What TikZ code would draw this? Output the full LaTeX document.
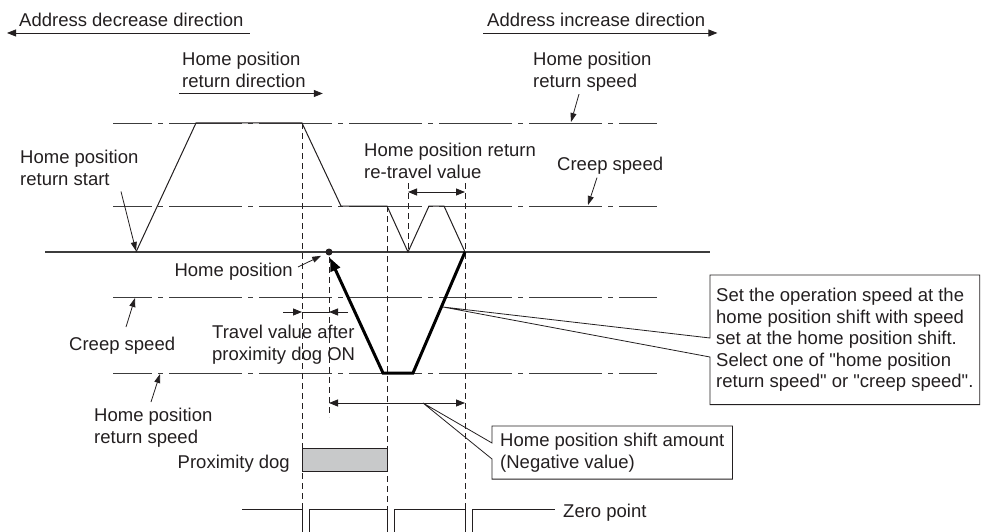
\documentclass[tikz,border=0pt]{standalone}
\usepackage{fontspec}
\setmainfont{Liberation Sans}[Ligatures=TeXOff]
\usetikzlibrary{positioning, arrows.meta}
\definecolor{inkgray}{HTML}{231F20}
\definecolor{linegray}{HTML}{3C3C3C}
\definecolor{doggray}{HTML}{C8C9CA}

\begin{document}
\begin{tikzpicture}[
    x=1pt, y=-1pt,
    every node/.style={font=\fontsize{18.5}{21.5}\selectfont, text=inkgray, inner sep=0pt, align=left},
    arrowline/.style={-{Triangle[length=9pt,width=7pt]}, line width=0.8pt, draw=inkgray},
    dimline/.style={{Triangle[length=9pt,width=7pt]}-{Triangle[length=9pt,width=7pt]}, line width=0.8pt, draw=inkgray},
    pointer/.style={-{Triangle[length=9pt,width=6pt]}, line width=0.8pt, draw=inkgray},
    speedline/.style={line width=0.8pt, draw=linegray, dash pattern=on 73pt off 6pt on 5pt off 6pt, dash phase=34pt},
    guide/.style={line width=0.8pt, draw=inkgray, dash pattern=on 6pt off 4pt},
    motion/.style={line width=1pt, draw=inkgray},
    shiftmotion/.style={line width=3pt, draw=black, -{Triangle[length=13pt,width=10pt]}},
    dot/.style={circle, fill=inkgray, minimum size=7pt},
    notebox/.style={inner xsep=8pt, inner ysep=7pt},
    notefrm/.style={line width=0.8pt, draw=inkgray},
  ]
  \useasboundingbox (0,0) rectangle (982,532);

  % speed levels and zero line
  \draw[speedline] (113,123) -- (657,123);
  \draw[speedline] (113,206) -- (657,206);
  \draw[speedline] (113,297) -- (657,297);
  \draw[speedline] (113,373) -- (657,373);
  \draw[line width=1.6pt, draw=linegray] (45,252) -- (710,252);

  % guides
  \draw[guide] (302,123) -- (302,509);
  \draw[guide] (329,257) -- (329,417);
  \draw[guide] (387,206) -- (387,509);
  \draw[guide] (408,183) -- (408,252);
  \draw[guide] (465,183) -- (465,509);

  % motion
  \coordinate (p0) at (136,252);
  \draw[motion] (p0) -- (196,123) -- (302,123) -- (341,206) -- (387,206)
    -- (408,252) -- (429,206) -- (444,206) -- (465,252);
  \draw[shiftmotion] (465,252) -- (413,373) -- (383,373) -- (330,258);
  \node[dot] (hp) at (329,252) {};

  % proximity dog and zero point signal
  \node[draw=inkgray, line width=0.8pt, fill=doggray, anchor=north west,
    minimum width=85pt, minimum height=23pt] (dog) at (302,448) {};
  \node[anchor=north east] (doglbl) at (290,455) {Proximity dog};
  \draw[line width=0.8pt, draw=inkgray] (242,509) -- (302,509) -- (302,532) -- (309,532) -- (309,509)
    -- (387,509) -- (387,532) -- (394,532) -- (394,509)
    -- (465,509) -- (465,532) -- (472,532) -- (472,509) -- (555,509);
  \node[anchor=north west] (zerolbl) at (563,504) {Zero point};

  % directions
  \node[anchor=north west] (decdir) at (19,13) {Address decrease direction};
  \draw[arrowline] ([xshift=6pt,yshift=-6pt]decdir.south east) -- ([xshift=-12pt,yshift=-6pt]decdir.south west);
  \node[anchor=north west] (incdir) at (487,13) {Address increase direction};
  \draw[arrowline] ([xshift=-4pt,yshift=-6pt]incdir.south west) -- ([xshift=12pt,yshift=-6pt]incdir.south east);
  \node[anchor=north west] (retdir) at (182,52) {Home position\\return direction};
  \draw[arrowline] ([xshift=-3pt,yshift=-6pt]retdir.south west) -- ([xshift=17pt,yshift=-6pt]retdir.south east);

  % speed labels
  \node[anchor=north west] (retspd) at (533,52) {Home position\\return speed};
  \coordinate (hsup) at (571,122);
  \draw[pointer] ([xshift=46pt,yshift=-3pt]retspd.south west) -- (hsup);
  \node[anchor=north west] (creepup) at (557,157) {Creep speed};
  \coordinate (csup) at (588,205);
  \draw[pointer] ([xshift=40pt,yshift=-3pt]creepup.south west) -- (csup);
  \node[anchor=north west] (creeplow) at (69,337) {Creep speed};
  \coordinate (cslow) at (135,298);
  \draw[pointer] ([xshift=57pt,yshift=10pt]creeplow.north west) -- (cslow);
  \node[anchor=north west] (retspdlow) at (94,408) {Home position\\return speed};
  \coordinate (hslow) at (160,374);
  \draw[pointer] ([xshift=57pt,yshift=6pt]retspdlow.north west) -- (hslow);

  % start and home position
  \node[anchor=north west] (retstart) at (20,150) {Home position\\return start};
  \draw[pointer] ([xshift=101pt,yshift=-6pt]retstart.south west) -- ([yshift=1pt]p0);
  \node[anchor=north east] (homepos) at (293,263) {Home position};
  \draw[pointer, shorten >=5pt] ([xshift=5pt,yshift=-4pt]homepos.north east) -- (hp);

  % travel values
  \node[anchor=north west] (retravel) at (364,143) {Home position return\\re-travel value};
  \draw[dimline] (408,192) -- (465,192);
  \node[anchor=north west] (dogtravel) at (212,325) {Travel value after\\proximity dog ON};
  \draw[arrowline] (283,312) -- (302,312);
  \draw[line width=0.8pt, draw=inkgray] (302,312) -- (329,312);
  \draw[arrowline] (348,312) -- (329,312);
  \draw[dimline] (329,403) -- (465,403);

  % notes
  \node[notebox, anchor=north west] (shiftnote) at (492,426) {Home position shift amount\\(Negative value)};
  \coordinate (shifttip) at (423,403);
  \draw[notefrm] (shiftnote.north west) -- (shiftnote.north east) -- (shiftnote.south east)
    -- (shiftnote.south west) -- ([yshift=-33pt]shiftnote.north west) -- (shifttip)
    -- ([yshift=-17pt]shiftnote.north west) -- cycle;
  \node[notebox, anchor=north west, inner xsep=6pt, inner ysep=13pt] (speednote) at (710,275)
    {Set the operation speed at the\\home position shift with speed\\set at the home position shift.\\Select one of "home position\\return speed" or "creep speed".};
  \coordinate (speedtip) at (443,307);
  \draw[notefrm] (speednote.north west) -- (speednote.north east) -- (speednote.south east)
    -- (speednote.south west) -- ([yshift=-82pt]speednote.north west) -- (speedtip)
    -- ([yshift=-63pt]speednote.north west) -- cycle;
\end{tikzpicture}
\end{document}
